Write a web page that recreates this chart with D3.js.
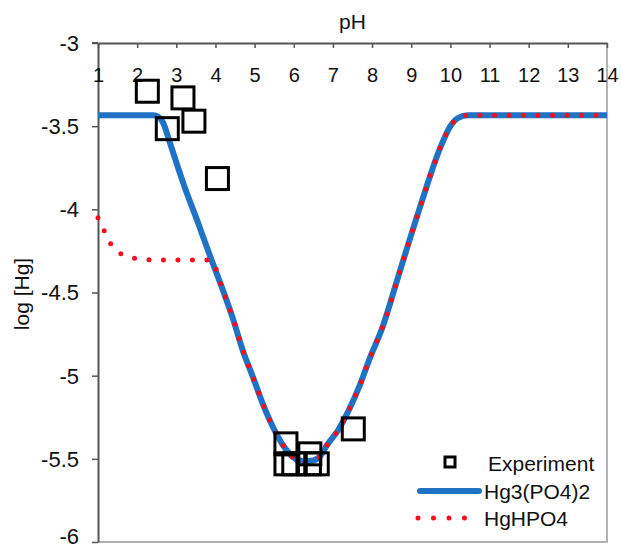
<!DOCTYPE html>
<html><head><meta charset="utf-8">
<script src="https://cdn.jsdelivr.net/npm/d3@7"></script>
<style>
body{margin:0;background:#fff;}
svg{display:block;font-family:Arial,"Liberation Sans",sans-serif;}
</style></head>
<body>
<svg id="c" width="622" height="549"></svg>
<script>
// ---- data ----
const phTicks = [1,2,3,4,5,6,7,8,9,10,11,12,13,14];
const logTicks = [-3,-3.5,-4,-4.5,-5,-5.5,-6];
const seriesNames = ["Experiment","Hg3(PO4)2","HgHPO4"];
const expPH  = [2.26,3.17,2.77,3.45,4.05,5.80,6.41,5.80,6.00,6.40,6.60,7.52];
const expLog = [-3.29,-3.33,-3.515,-3.47,-3.815,-5.41,-5.47,-5.53,-5.53,-5.53,-5.53,-5.32];
const hg3PH  = [1,2.41,2.55,2.67,2.84,3.18,3.56,3.90,4.15,4.45,4.70,4.96,5.21,5.47,5.73,5.98,6.25,6.50,6.67,6.84,7.14,7.39,7.69,7.95,8.25,8.66,9.22,9.74,10.0,10.2,10.45,14];
const hg3Log = [-3.435,-3.435,-3.445,-3.483,-3.603,-3.844,-4.084,-4.305,-4.46,-4.66,-4.85,-5.01,-5.17,-5.31,-5.42,-5.49,-5.515,-5.51,-5.485,-5.42,-5.325,-5.215,-5.055,-4.89,-4.72,-4.41,-3.99,-3.63,-3.5,-3.45,-3.435,-3.435];
const hgHPH  = [1,1.18,1.33,1.6,1.95,2.5,3.78,3.92,4.15,4.45,4.70,4.96,5.21,5.47,5.73,5.98,6.25,6.50,6.67,6.84,7.14,7.39,7.69,7.95,8.25,8.66,9.22,9.74,10.0,10.2,10.45,14];
const hgHLog = [-4.05,-4.14,-4.21,-4.27,-4.295,-4.305,-4.305,-4.315,-4.46,-4.66,-4.85,-5.01,-5.17,-5.31,-5.42,-5.49,-5.515,-5.51,-5.485,-5.42,-5.325,-5.215,-5.055,-4.89,-4.72,-4.41,-3.99,-3.63,-3.5,-3.45,-3.435,-3.435];

const BLUE = "#1f72c4", RED = "#f2101c";
const svg = d3.select("#c");
const x = d3.scaleLinear().domain([1,14]).range([98,607]);
const y = d3.scaleLinear().domain([-3,-6]).range([43,542]);

// plot border (right/bottom)
svg.append("path").attr("d",`M${x(1)},${y(-6)}H${x(14)}V${y(-3)}`)
  .attr("fill","none").attr("stroke","#999").attr("stroke-width",1.5);

// left axis
const ya = svg.append("g").attr("transform",`translate(${x(1)},0)`)
  .call(d3.axisLeft(y).tickValues(logTicks).tickSize(6).tickSizeOuter(0).tickPadding(13).tickFormat(d=>String(d)));
ya.select(".domain").attr("stroke","#555").attr("stroke-width",2);
ya.selectAll(".tick line").attr("stroke","#555").attr("stroke-width",1.5);
ya.selectAll("text").attr("font-size",22).attr("fill","#111").attr("dy",d=>d===-6?"0.05em":"0.34em");

// top axis (ticks inward, labels below)
const xa = svg.append("g").attr("transform",`translate(0,${y(-3)})`)
  .call(d3.axisBottom(x).tickValues(phTicks).tickSize(5).tickSizeOuter(0));
xa.select(".domain").attr("stroke","#555").attr("stroke-width",2);
xa.selectAll(".tick line").attr("stroke","#555").attr("stroke-width",1.5);
xa.selectAll("text").attr("font-size",20).attr("fill","#111").attr("y",39).attr("dy",0);
// extend top axis line left to the -3 tick
svg.append("line").attr("x1",x(1)-6).attr("x2",x(1)).attr("y1",y(-3)).attr("y2",y(-3)).attr("stroke","#555").attr("stroke-width",2);

// titles
svg.append("text").attr("x",(x(1)+x(14))/2).attr("y",29).attr("text-anchor","middle")
  .attr("font-size",21).attr("fill","#111").text("pH");
svg.append("text").attr("transform",`translate(29,${294}) rotate(-90)`).attr("text-anchor","middle")
  .attr("font-size",21).attr("fill","#111").text("log [Hg]");

// lines
const line = d3.line().x(d=>x(d[0])).y(d=>y(d[1])).curve(d3.curveMonotoneX);
const hg3 = hg3PH.map((p,i)=>[p,hg3Log[i]]);
const hgH = hgHPH.map((p,i)=>[p,hgHLog[i]]);
svg.append("path").attr("d",line(hg3)).attr("fill","none").attr("stroke",BLUE).attr("stroke-width",6);
svg.append("path").attr("d",line(hgH)).attr("fill","none").attr("stroke",RED).attr("stroke-width",5)
  .attr("stroke-linecap","round").attr("stroke-dasharray","0 14.5");

// experiment squares
const S = 22;
svg.append("g").selectAll("rect").data(expPH.map((p,i)=>[p,expLog[i]])).join("rect")
  .attr("x",d=>x(d[0])-S/2).attr("y",d=>y(d[1])-S/2).attr("width",S).attr("height",S)
  .attr("fill","none").attr("stroke","#000").attr("stroke-width",3);

// legend
const lg = svg.append("g");
lg.append("rect").attr("x",445).attr("y",457).attr("width",10).attr("height",10)
  .attr("fill","none").attr("stroke","#000").attr("stroke-width",3);
lg.append("line").attr("x1",420).attr("x2",479).attr("y1",491).attr("y2",491)
  .attr("stroke",BLUE).attr("stroke-width",6).attr("stroke-linecap","round");
lg.append("line").attr("x1",418).attr("x2",480).attr("y1",518).attr("y2",518)
  .attr("stroke",RED).attr("stroke-width",5).attr("stroke-linecap","round").attr("stroke-dasharray","0 15.5");
const ly = [463,491,518];
seriesNames.forEach((n,i)=>{
  lg.append("text").attr("x",i===0?488:484).attr("y",ly[i]).attr("dy","0.36em")
    .attr("font-size",21).attr("fill","#111").text(n);
});
</script>
</body></html>
